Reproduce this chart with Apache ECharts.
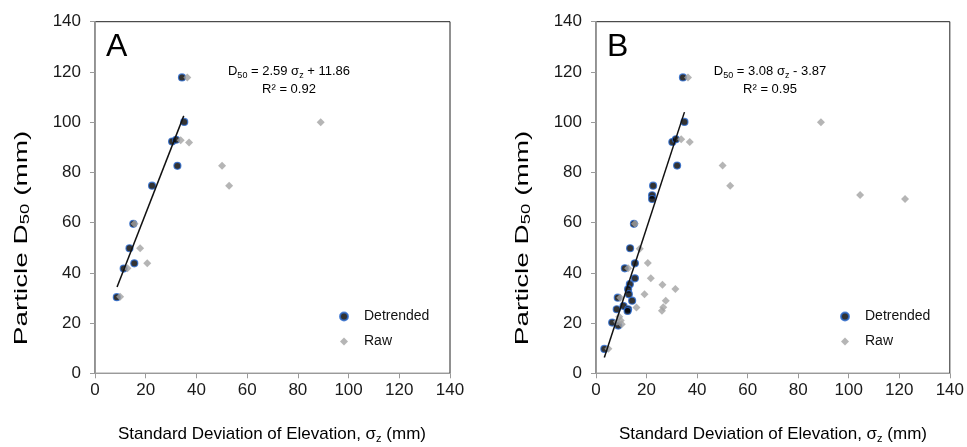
<!DOCTYPE html>
<html>
<head>
<meta charset="utf-8">
<script src="https://cdn.jsdelivr.net/npm/echarts@6/dist/echarts.min.js"></script>
<style>
html,body{margin:0;padding:0;background:#fff;}
#c{width:967px;height:447px;}
</style>
</head>
<body>
<div id="c"></div>
<script>
// ---- data ----
const xTicks = [0, 20, 40, 60, 80, 100, 120, 140];
const yTicks = [0, 20, 40, 60, 80, 100, 120, 140];
const panelLabels = ['A', 'B'];
const seriesNames = ['Detrended', 'Raw'];

const detrendedA = [[8.6,30.3],[11.3,41.7],[13.6,49.8],[15.5,43.8],[15.1,59.5],[22.5,74.7],[30.4,92.3],[32.0,93.0],[32.5,82.6],[35.2,100.1],[34.3,117.8]];
const rawA = [[9.9,30.5],[12.8,41.8],[17.8,49.8],[20.6,43.8],[15.6,59.5],[50.1,82.6],[52.9,74.7],[33.8,92.8],[37.1,91.9],[36.4,117.8],[89.0,100.0]];
const trendA = [[8.7,34.4],[35.0,102.5]];

const detrendedB = [[34.4,117.8],[35.0,100.1],[30.2,92.1],[31.6,93.2],[32.1,82.7],[22.6,74.7],[22.2,70.9],[22.2,69.4],[15.0,59.5],[13.5,49.8],[15.4,43.8],[11.4,41.8],[15.4,37.8],[13.4,35.5],[12.7,33.5],[13.0,31.5],[8.6,30.1],[14.3,28.9],[10.9,26.8],[8.2,25.5],[12.7,25.5],[12.5,24.8],[6.4,20.2],[8.8,19.0],[3.3,9.7]];
const rawB = [[36.4,117.8],[89.0,100.0],[33.7,93.2],[37.1,92.1],[50.1,82.7],[53.1,74.7],[104.5,71.0],[122.3,69.4],[15.4,59.5],[17.3,49.6],[20.5,43.9],[12.7,41.8],[21.7,37.8],[26.3,35.3],[31.4,33.6],[19.2,31.5],[27.6,28.9],[26.6,26.3],[26.1,24.9],[16.0,26.2],[9.6,30.1],[9.2,22.5],[9.8,21.0],[10.2,19.5],[8.3,20.5],[4.9,9.8]];
const trendB = [[3.3,6.3],[35.0,104.0]];

const eqA = ['2.59', '+ 11.86', '0.92'];
const eqB = ['3.08', '- 3.87', '0.95'];
// ---------------------------------------

const FONT = '"Liberation Sans", Arial, sans-serif';
const DET_FILL = '#000000', DET_BORDER = '#2a6ad0', RAW_FILL = '#a3a3a3';
const AXIS_GREY = '#9a9a9a';

function xAxis(i){
  return {gridIndex:i, type:'value', min:0, max:140, interval:20,
    axisLine:{show:true, onZero:false, lineStyle:{color:AXIS_GREY, width:1}},
    axisTick:{show:true, length:5, lineStyle:{color:AXIS_GREY}},
    axisLabel:{fontFamily:FONT, fontSize:17, color:'#1a1a1a', margin:9},
    splitLine:{show:false}};
}
function yAxis(i){
  return {gridIndex:i, type:'value', min:0, max:140, interval:20,
    axisLine:{show:true, onZero:false, lineStyle:{color:AXIS_GREY, width:1}},
    axisTick:{show:true, length:5, lineStyle:{color:AXIS_GREY}},
    axisLabel:{fontFamily:FONT, fontSize:17, color:'#1a1a1a', margin:14},
    splitLine:{show:false}};
}
function scatterDet(i, data){
  return {name:seriesNames[0], type:'scatter', xAxisIndex:i, yAxisIndex:i, data:data,
    symbol:'circle', symbolSize:7, z:3,
    itemStyle:{color:DET_FILL, borderColor:DET_BORDER, borderWidth:1.2}};
}
function scatterRaw(i, data){
  return {name:seriesNames[1], type:'scatter', xAxisIndex:i, yAxisIndex:i, data:data,
    symbol:'diamond', symbolSize:8, z:4,
    itemStyle:{color:RAW_FILL}};
}
function trend(i, data){
  return {name:'trend'+i, type:'line', xAxisIndex:i, yAxisIndex:i, data:data,
    symbol:'none', z:5, lineStyle:{color:'#111', width:1.5}, silent:true};
}

const subRich = {
  t:{fontFamily:FONT, fontSize:13, color:'#111', lineHeight:18},
  s:{fontFamily:FONT, fontSize:9, color:'#111', lineHeight:10, verticalAlign:'bottom'}
};
function eqText(eq){
  return '{t|D}{s|50}{t| = ' + eq[0] + ' σ}{s|z}{t| ' + eq[1] + '}\n{t|R² = ' + eq[2] + '}';
}
const bigRich = {
  t:{fontFamily:FONT, fontSize:17, color:'#1a1a1a', lineHeight:20},
  s:{fontFamily:FONT, fontSize:11, color:'#1a1a1a', lineHeight:12, verticalAlign:'bottom'}
};
const yRich = {
  t:{fontFamily:FONT, fontSize:18, color:'#1a1a1a', lineHeight:20},
  s:{fontFamily:FONT, fontSize:12, color:'#1a1a1a', lineHeight:12, verticalAlign:'bottom'}
};
const xTitle = '{t|Standard Deviation of Elevation, σ}{s|z}{t| (mm)}';
const yTitle = '{t|Particle D}{s|50}{t| (mm)}';

const offs = [0, 501];
const graphic = [];
offs.forEach((o, i) => {
  graphic.push({type:'text', x:106+o, y:31, style:{text:panelLabels[i], font:'32px '+FONT, fill:'#000'}});
  graphic.push({type:'text', x:(i===0?289:770), y:80, style:{text:eqText(i===0?eqA:eqB), rich:subRich, align:'center', verticalAlign:'middle'}});
  graphic.push({type:'text', x:272+o, y:434, style:{text:xTitle, rich:bigRich, align:'center', verticalAlign:'middle'}});
  graphic.push({type:'text', x:22+o, y:238, rotation:Math.PI/2, scaleX:1.55, style:{text:yTitle, rich:yRich, align:'center', verticalAlign:'middle'}});
});

function legend(left, top){
  return {orient:'vertical', left:left, top:top, itemWidth:8, itemHeight:8, itemGap:8,
    data:seriesNames, selectedMode:false,
    textStyle:{fontFamily:FONT, fontSize:14, color:'#111', lineHeight:17, padding:[0,0,0,11]}};
}

const chart = echarts.init(document.getElementById('c'), null, {renderer:'canvas'});
chart.setOption({
  animation:false,
  backgroundColor:'#fff',
  grid:[
    {left:95, top:21.7, width:355, height:351.6, show:true, borderColor:'#222', borderWidth:1},
    {left:596, top:21.7, width:355, height:351.6, show:true, borderColor:'#222', borderWidth:1}
  ],
  xAxis:[xAxis(0), xAxis(1)],
  yAxis:[yAxis(0), yAxis(1)],
  legend:[legend(334, 303), legend(835, 303)],
  series:[scatterDet(0, detrendedA), scatterRaw(0, rawA), trend(0, trendA),
          scatterDet(1, detrendedB), scatterRaw(1, rawB), trend(1, trendB)],
  graphic:graphic
});
</script>
</body>
</html>
